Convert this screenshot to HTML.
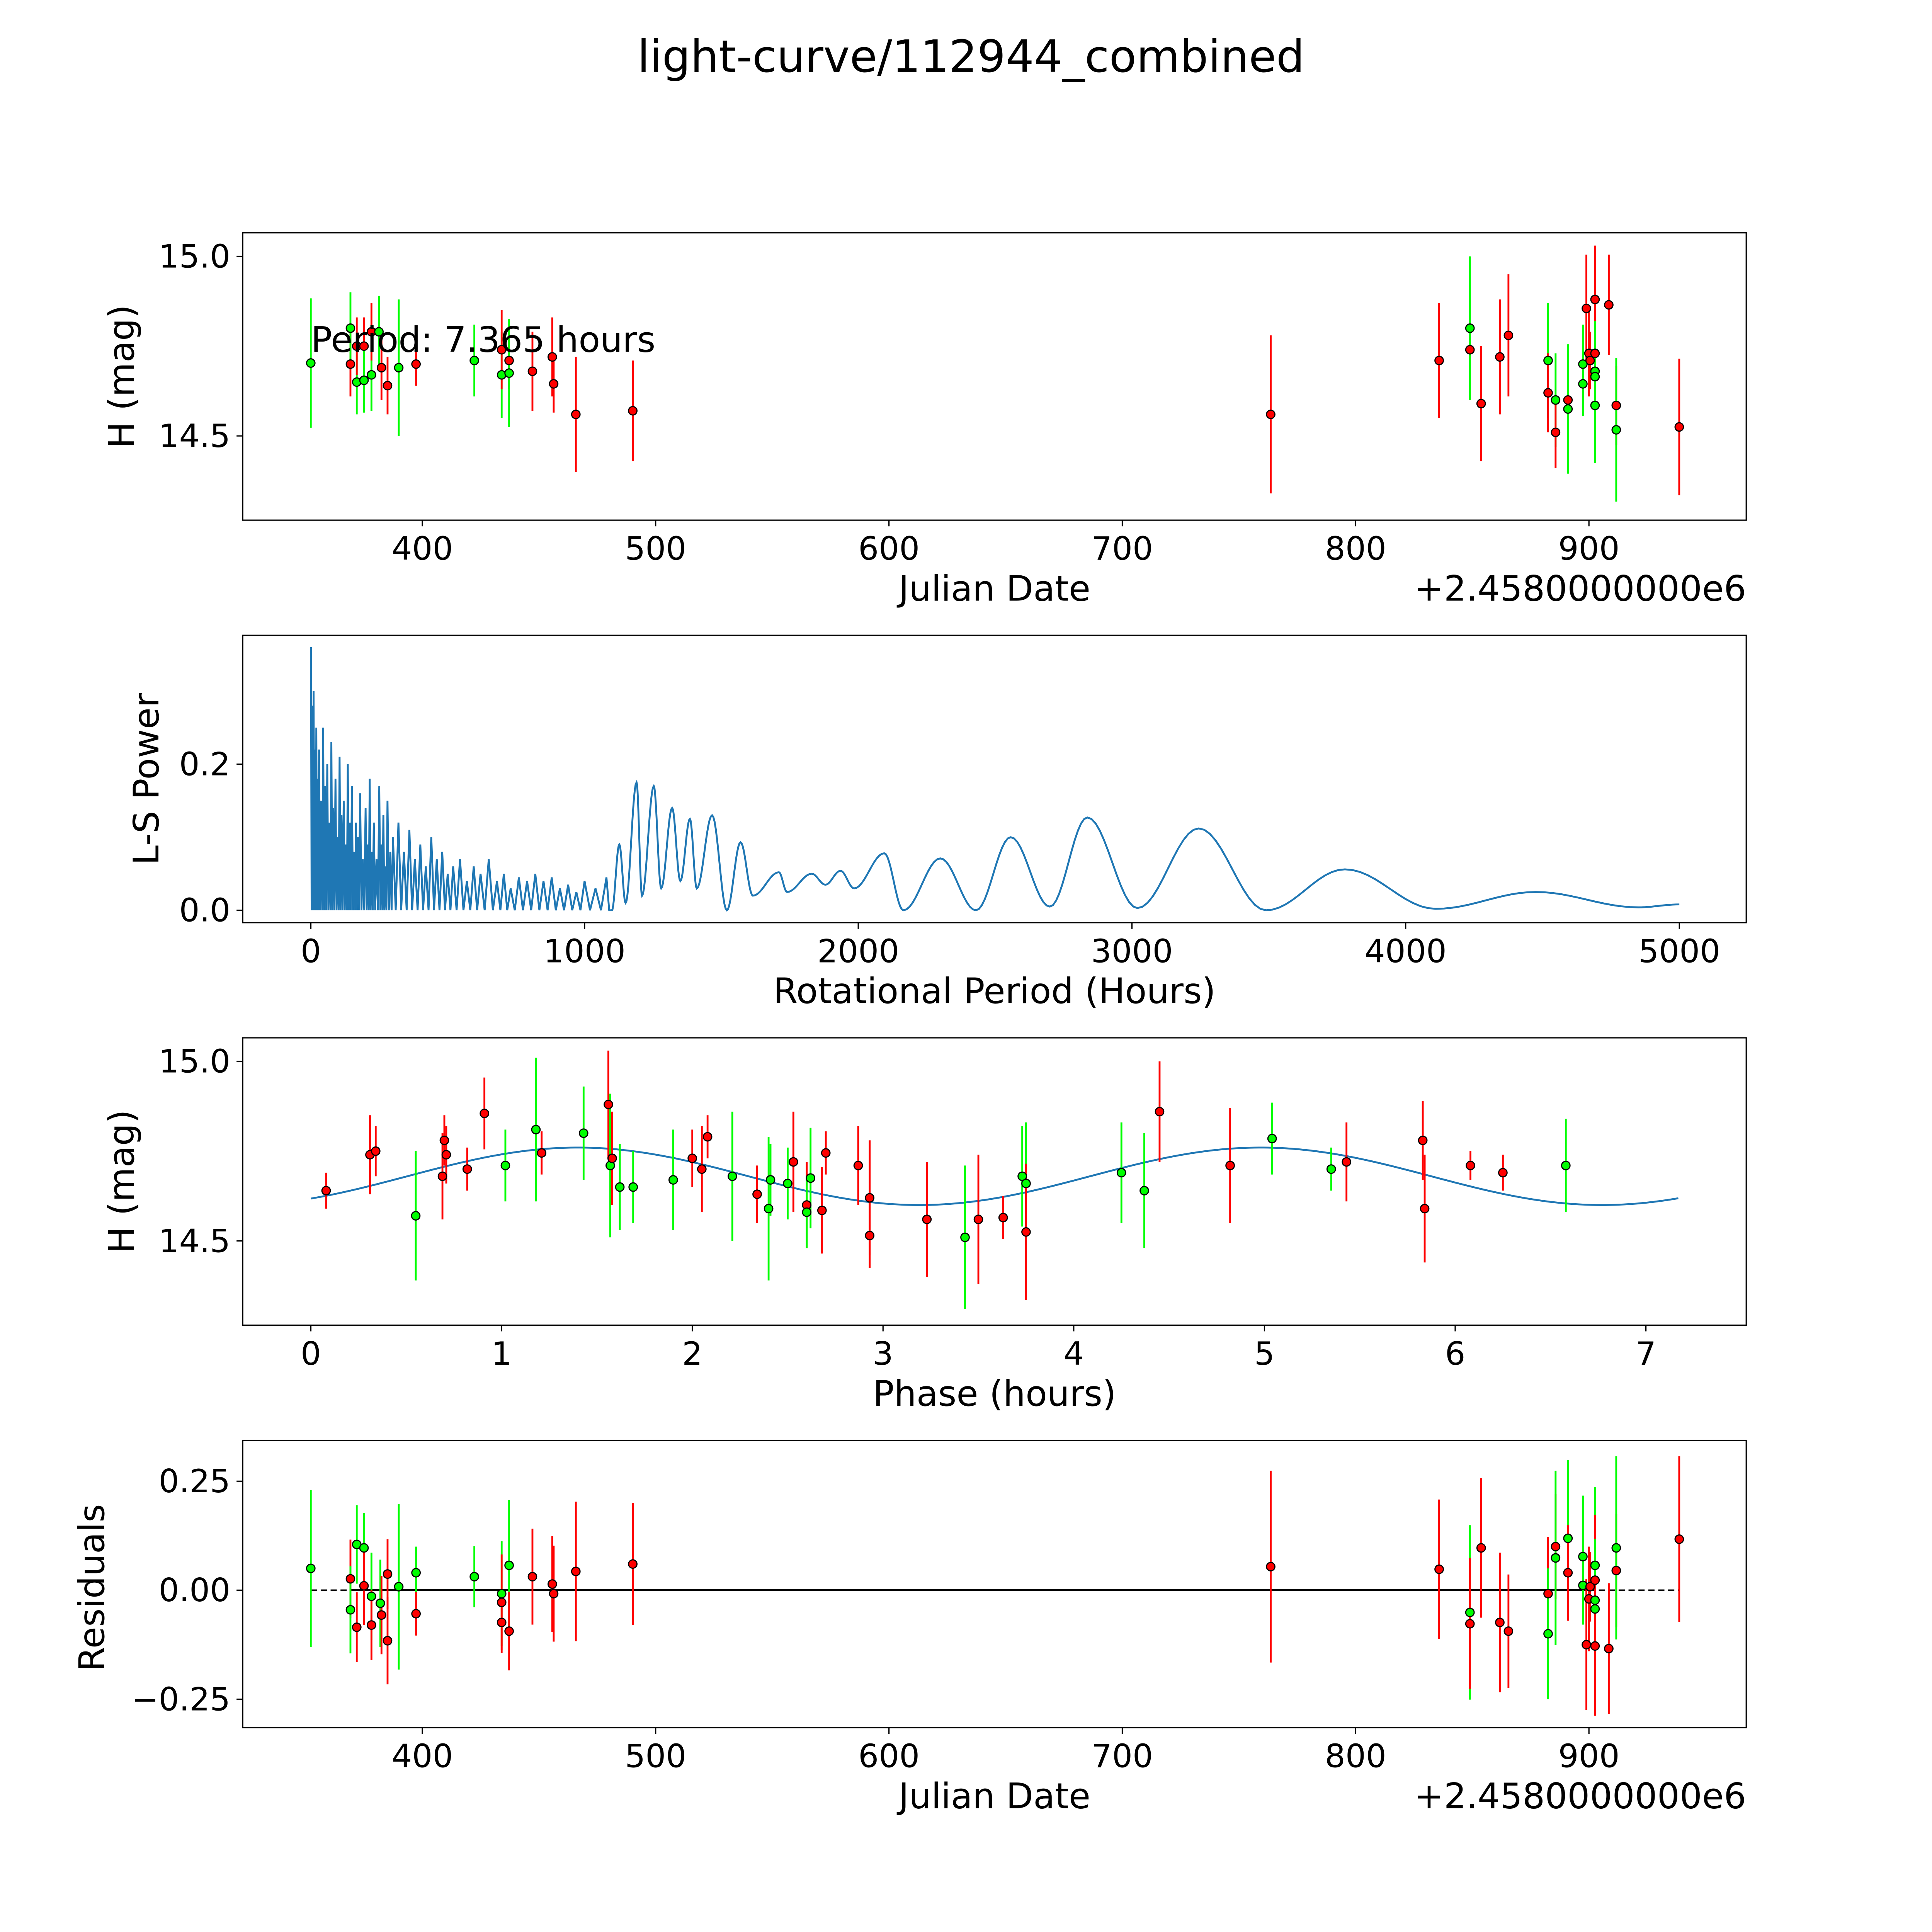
<!DOCTYPE html>
<html><head><meta charset="utf-8"><style>
html,body{margin:0;padding:0;background:#fff;overflow:hidden;width:100%;height:100%;}
svg{display:block;position:absolute;left:0;top:0;width:100vw;height:100vh;font-family:"DejaVu Sans","Liberation Sans",sans-serif;}
</style></head><body>
<svg id="fig" viewBox="0 0 1560 1560" preserveAspectRatio="none" xmlns="http://www.w3.org/2000/svg">
<rect width="1560" height="1560" fill="#fff"/>
<text x="784" y="58" font-size="36" text-anchor="middle">light-curve/112944_combined</text>
</svg>
<script>
// ---------- data: light curve ----------
const lcDates = [352.2,369.2,369.2,371.9,371.9,375,375,378.2,378.2,381.4,382.5,385.1,389.9,397.3,422.3,434,434,437.2,437.2,447.2,455.7,456.3,465.8,490.2,763.6,835.8,849,849,853.8,861.8,865.5,882.5,882.5,885.7,885.7,891,891,898.9,897.4,897.4,900,900.5,902.6,902.6,902.6,902.6,902.6,908.5,911.7,911.7,938.7];
const lcMags  = [14.703,14.70,14.80,14.65,14.75,14.75,14.655,14.67,14.79,14.79,14.69,14.64,14.69,14.70,14.71,14.67,14.74,14.71,14.675,14.68,14.72,14.645,14.56,14.57,14.56,14.71,14.74,14.80,14.59,14.72,14.78,14.71,14.62,14.60,14.51,14.60,14.575,14.855,14.70,14.645,14.73,14.71,14.73,14.88,14.68,14.665,14.585,14.865,14.585,14.517,14.525];
const lcErrs  = [0.18,0.09,0.1,0.09,0.08,0.08,0.09,0.1,0.08,0.1,0.09,0.08,0.19,0.06,0.1,0.12,0.11,0.08,0.15,0.11,0.11,0.08,0.16,0.14,0.22,0.16,0.14,0.2,0.16,0.16,0.17,0.16,0.11,0.13,0.1,0.11,0.18,0.15,0.11,0.09,0.12,0.08,0.18,0.15,0.14,0.12,0.16,0.14,0.11,0.2,0.19];
const lcColors= ['g','r','g','g','r','r','g','g','r','g','r','r','g','r','g','g','r','r','g','r','r','r','r','r','r','r','r','g','r','r','r','g','r','g','r','r','g','r','g','g','r','r','r','r','g','g','g','r','r','g','r'];
// ---------- data: periodogram ----------
const denseHours = [0.5,5,10,15,20,25,30,38,45,52,60,68,75,82,90,98,105,112,120,128,135,142,150,158,165,172,180,190,200,208,215,222,230,240,250,258,265,272,280,290,300,320,340,360,380,400,420,440,460,480,500,520,545,570,595,620,650,680,705,730,760,790,820,850,880,910,940,970,1000,1040,1080];
const densePower = [0.36,0.28,0.30,0.22,0.25,0.18,0.22,0.15,0.25,0.17,0.20,0.12,0.23,0.14,0.18,0.10,0.21,0.13,0.15,0.09,0.20,0.12,0.17,0.08,0.12,0.10,0.16,0.07,0.14,0.09,0.18,0.08,0.12,0.07,0.17,0.09,0.13,0.06,0.15,0.08,0.10,0.12,0.08,0.11,0.07,0.09,0.06,0.10,0.07,0.08,0.05,0.06,0.07,0.04,0.06,0.05,0.07,0.04,0.05,0.03,0.045,0.04,0.05,0.04,0.045,0.03,0.035,0.025,0.04,0.03,0.045];
const smoothHours = [1100,1127,1150,1190,1210,1253,1280,1320,1350,1385,1410,1466,1520,1570,1615,1710,1740,1830,1880,1935,1985,2095,2165,2300,2430,2557,2700,2837,3020,3244,3490,3778,4110,4475,4850,5000];
const smoothPower = [0.0,0.09,0.01,0.175,0.02,0.17,0.03,0.14,0.04,0.125,0.03,0.13,0.0,0.093,0.02,0.052,0.025,0.05,0.035,0.054,0.03,0.078,0.0,0.071,0.0,0.10,0.005,0.127,0.003,0.112,0.0,0.056,0.002,0.025,0.004,0.008];
// ---------- data: phased ----------
const phHours = [0.08,0.31,0.34,0.55,0.69,0.7,0.71,0.82,0.91,1.02,1.18,1.21,1.43,1.56,1.57,1.58,1.62,1.69,1.9,2.0,2.05,2.08,2.21,2.34,2.4,2.41,2.5,2.53,2.6,2.6,2.62,2.68,2.7,2.87,2.93,2.93,3.23,3.43,3.5,3.63,3.73,3.75,3.75,4.25,4.37,4.45,4.82,5.04,5.35,5.43,5.83,5.84,6.08,6.25,6.58];
const phMags  = [14.64,14.74,14.75,14.57,14.68,14.78,14.74,14.70,14.855,14.71,14.81,14.745,14.80,14.88,14.71,14.73,14.65,14.65,14.67,14.73,14.70,14.79,14.68,14.63,14.59,14.67,14.66,14.72,14.60,14.58,14.675,14.585,14.745,14.71,14.62,14.515,14.56,14.51,14.56,14.565,14.68,14.66,14.525,14.69,14.64,14.86,14.71,14.785,14.70,14.72,14.78,14.59,14.71,14.69,14.71];
const phErrs  = [0.05,0.11,0.07,0.18,0.12,0.07,0.08,0.06,0.1,0.1,0.2,0.06,0.13,0.15,0.2,0.13,0.12,0.1,0.14,0.08,0.12,0.06,0.18,0.08,0.2,0.1,0.1,0.14,0.12,0.1,0.14,0.12,0.06,0.11,0.16,0.09,0.16,0.2,0.18,0.06,0.14,0.17,0.19,0.14,0.16,0.14,0.16,0.1,0.06,0.11,0.11,0.15,0.04,0.05,0.13];
const phColors= ['r','r','r','g','r','r','r','r','r','g','g','r','g','r','g','r','g','g','g','r','r','r','g','r','g','g','g','r','r','g','g','r','r','r','r','r','r','g','r','r','g','g','r','g','g','r','r','g','g','r','r','r','r','r','g'];
const fitMean = 14.68, fitAmp = 0.08, fitPeak = 1.4, fitPeriod = 3.58, fitEnd = 7.17;
// ---------- data: residuals ----------
const resDates = [352.2,369.2,369.2,371.9,371.9,375,375,378.2,378.2,382,382.5,385.1,385.1,389.9,397.3,397.3,422.3,434,434,434,437.2,437.2,447.2,455.7,456.3,465.8,490.2,763.6,835.8,849,849,853.8,861.8,865.5,882.5,882.5,885.7,885.7,891,891,897.4,897.4,898.9,900,900.5,902.6,902.6,902.6,902.6,902.6,908.5,911.7,911.7,938.7];
const resVals  = [0.05,0.026,-0.045,0.105,-0.085,0.097,0.01,-0.014,-0.08,-0.03,-0.057,0.037,-0.116,0.008,0.04,-0.054,0.031,-0.008,-0.028,-0.074,0.057,-0.094,0.031,0.014,-0.008,0.043,0.06,0.054,0.048,-0.051,-0.077,0.097,-0.074,-0.094,-0.008,-0.1,0.1,0.074,0.119,0.04,0.077,0.011,-0.125,-0.02,0.008,0.057,0.023,-0.023,-0.043,-0.128,-0.134,0.045,0.097,0.117];
const resErrs  = [0.18,0.09,0.1,0.09,0.08,0.08,0.09,0.1,0.08,0.1,0.09,0.08,0.1,0.19,0.06,0.05,0.07,0.12,0.11,0.07,0.15,0.09,0.11,0.11,0.11,0.16,0.14,0.22,0.16,0.2,0.15,0.16,0.16,0.13,0.13,0.15,0.12,0.2,0.18,0.11,0.14,0.09,0.15,0.12,0.08,0.18,0.15,0.14,0.12,0.16,0.15,0.13,0.21,0.19];
const resColors= ['g','r','g','g','r','g','r','g','r','g','r','r','r','g','g','r','g','g','r','r','g','r','r','r','r','r','r','r','r','g','r','r','r','r','r','g','r','g','g','r','g','g','r','r','r','g','r','g','g','r','r','r','g','r'];

const NS='http://www.w3.org/2000/svg';
const svg=document.getElementById('fig');
function el(tag,attrs,parent){const e=document.createElementNS(NS,tag);for(const k in attrs)e.setAttribute(k,attrs[k]);(parent||svg).appendChild(e);return e;}
const COL={r:'#ff0000',g:'#00ff00'};

const X1=196,X2=1410;
const panels=[{y1:188,y2:420},{y1:513,y2:745},{y1:838,y2:1070},{y1:1163,y2:1395}];
const xDate=d=>341+(d-400)*1.884;
const yMag1=m=>207+(15-m)*290;
const xHour=h=>251+h*0.221;
const yPow=p=>735-p*590;
const xPh=p=>251+p*154;
const yMag3=m=>857+(15-m)*290;
const yRes=r=>1284-r*352;

function frame(p,name){
  const g=el('g',{});
  
  
  return g;
}
function box(p,g){
  const r=el('rect',{x:X1,y:p.y1,width:X2-X1,height:p.y2-p.y1,fill:'none',stroke:'#000','stroke-width':1},g);
  
  
}
function xticks(p,g,vals,fx,labs){
  vals.forEach((v,i)=>{
    const x=fx(v);
    el('line',{x1:x,x2:x,y1:p.y2,y2:p.y2+5,stroke:'#000','stroke-width':1},g);
    const t=el('text',{x:x,y:p.y2+32,'font-size':26,'text-anchor':'middle'},g);
    
    
    t.textContent=labs[i];
  });
}
function yticks(p,g,vals,fy,labs){
  vals.forEach((v,i)=>{
    const y=fy(v);
    el('line',{x1:X1-5,x2:X1,y1:y,y2:y,stroke:'#000','stroke-width':1},g);
    const t=el('text',{x:X1-10,y:y+9,'font-size':26,'text-anchor':'end'},g);
    
    
    t.textContent=labs[i];
  });
}
function label(g,txt,x,y,rot,name){
  const t=el('text',{x:x,y:y,'font-size':28.5,'text-anchor':'middle',transform:rot?`rotate(-90 ${x} ${y})`:''},g);
  
  
  t.textContent=txt;
}
function points(g,xs,ys,es,cs,fx,fy,name){
  xs.forEach((v,i)=>{
    const x=fx(v);
    const l=el('line',{x1:x,x2:x,y1:fy(ys[i]-es[i]),y2:fy(ys[i]+es[i]),stroke:COL[cs[i]],'stroke-width':1.5},g);
    
    
  });
  xs.forEach((v,i)=>{
    const c=el('circle',{cx:fx(v),cy:fy(ys[i]),r:3.4,fill:COL[cs[i]],stroke:'#000','stroke-width':0.9},g);
    
    
  });
}
const dateTicks=[400,500,600,700,800,900];

{const p=panels[0];const g=frame(p,'light-curve-panel');
 points(g,lcDates,lcMags,lcErrs,lcColors,xDate,yMag1,'observation-point');
 box(p,g);
 xticks(p,g,dateTicks,xDate,dateTicks.map(String));
 yticks(p,g,[14.5,15.0],yMag1,['14.5','15.0']);
 label(g,'Julian Date',803,485,false,'x-axis-title');
 const o=el('text',{x:X2,y:485,'font-size':28.5,'text-anchor':'end'},g);
 o.textContent='+2.4580000000e6';
 label(g,'H (mag)',108,304,true,'y-axis-title');
 const pt=el('text',{x:251,y:284,'font-size':28.5},g);
 pt.textContent='Period: 7.365 hours';
}
{const p=panels[1];const g=frame(p,'periodogram-panel');
 let pts=[];
 denseHours.forEach((h,i)=>{
   pts.push([xHour(h),yPow(densePower[i])]);
   const nh=i<denseHours.length-1?denseHours[i+1]:smoothHours[0];
   pts.push([xHour((h+nh)/2),yPow(0)]);
 });
 for(let i=0;i<smoothHours.length-1;i++){
   const h0=smoothHours[i],h1=smoothHours[i+1],p0=smoothPower[i],p1=smoothPower[i+1];
   for(let s=0;s<=12;s++){const t=s/12;const w=(1-Math.cos(Math.PI*t))/2;pts.push([xHour(h0+(h1-h0)*t),yPow(p0+(p1-p0)*w)]);}
 }
 const pl=el('polyline',{points:pts.map(q=>q[0].toFixed(2)+','+q[1].toFixed(2)).join(' '),fill:'none',stroke:'#1f77b4','stroke-width':1.5},g);
 
 box(p,g);
 const xt=[0,1000,2000,3000,4000,5000];
 xticks(p,g,xt,xHour,xt.map(String));
 yticks(p,g,[0,0.2],yPow,['0.0','0.2']);
 label(g,'Rotational Period (Hours)',803,810,false,'x-axis-title');
 label(g,'L-S Power',128,629,true,'y-axis-title');
}
{const p=panels[2];const g=frame(p,'phase-panel');
 let pts=[];
 for(let s=0;s<=300;s++){const ph=fitEnd*s/300;pts.push(xPh(ph).toFixed(2)+','+yMag3(fitMean+fitAmp*Math.cos(2*Math.PI*(ph-fitPeak)/fitPeriod)).toFixed(2));}
 const pl=el('polyline',{points:pts.join(' '),fill:'none',stroke:'#1f77b4','stroke-width':1.5},g);
 
 points(g,phHours,phMags,phErrs,phColors,xPh,yMag3,'phased-point');
 box(p,g);
 const xt=[0,1,2,3,4,5,6,7];
 xticks(p,g,xt,xPh,xt.map(String));
 yticks(p,g,[14.5,15.0],yMag3,['14.5','15.0']);
 label(g,'Phase (hours)',803,1135,false,'x-axis-title');
 label(g,'H (mag)',108,954,true,'y-axis-title');
}
{const p=panels[3];const g=frame(p,'residuals-panel');
 const d=el('line',{x1:xDate(352.2),x2:xDate(938.7),y1:yRes(0),y2:yRes(0),stroke:'#000','stroke-width':1.2,'stroke-dasharray':'5,3'},g);
 
 const s=el('line',{x1:xDate(369.2),x2:xDate(902.6),y1:yRes(0),y2:yRes(0),stroke:'#000','stroke-width':1.5},g);
 
 points(g,resDates,resVals,resErrs,resColors,xDate,yRes,'residual-point');
 box(p,g);
 xticks(p,g,dateTicks,xDate,dateTicks.map(String));
 yticks(p,g,[-0.25,0,0.25],yRes,['\u22120.25','0.00','0.25']);
 label(g,'Julian Date',803,1460,false,'x-axis-title');
 const o=el('text',{x:X2,y:1460,'font-size':28.5,'text-anchor':'end'},g);
 o.textContent='+2.4580000000e6';
 label(g,'Residuals',84,1282,true,'y-axis-title');
}
</script>
</body></html>
